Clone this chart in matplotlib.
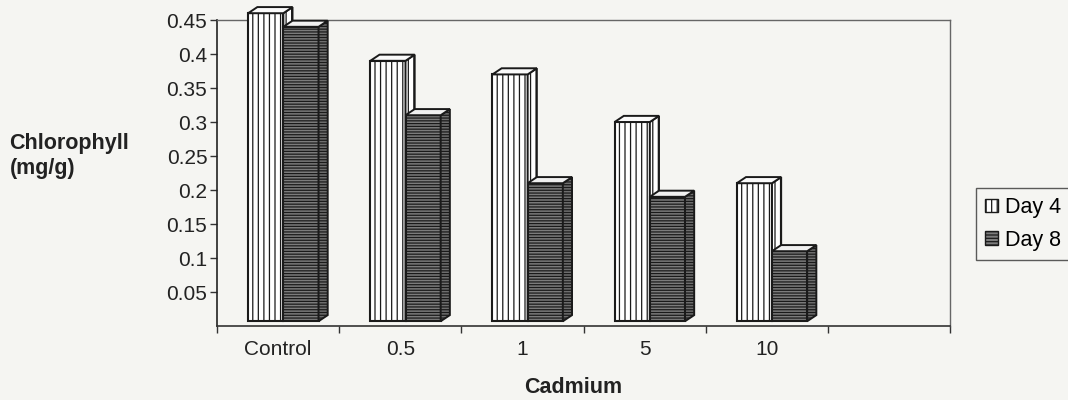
import numpy as np
import matplotlib.pyplot as plt
from matplotlib.patches import Patch

plt.rcParams['font.family'] = ['Liberation Sans', 'DejaVu Sans']
plt.rcParams['hatch.linewidth'] = 0.9

# ---- data ----
categories = ['Control', '0.5', '1', '5', '10']
day4 = [0.46, 0.39, 0.37, 0.30, 0.21]
day8 = [0.44, 0.31, 0.21, 0.19, 0.11]
yticks = [0.05, 0.1, 0.15, 0.2, 0.25, 0.3, 0.35, 0.4, 0.45]

bg = '#f5f5f2'
fig = plt.figure(figsize=(10.68, 4.0), dpi=100, facecolor=bg)
ax = fig.add_axes([0.2032, 0.185, 0.6863, 0.765], facecolor=bg)

w = 0.288          # width of one bar front
dx, dy = 0.075, 0.009   # 3d depth (data units)
base = 0.007
slots = np.arange(len(categories))


def bar3d(x0, h, hatch, face, side, top):
    ax.bar(x0, h - base, bottom=base, width=w, align='edge', color=face,
           hatch=hatch, edgecolor='#1a1a1a', linewidth=1.5, zorder=3, clip_on=False)
    x1 = x0 + w
    ax.fill([x1, x1 + dx, x1 + dx, x1], [base, base + dy, h + dy, h],
            facecolor=side, hatch=hatch, edgecolor='#1a1a1a', linewidth=1.4,
            zorder=3, clip_on=False)
    ax.fill([x0, x1, x1 + dx, x0 + dx], [h, h, h + dy, h + dy],
            facecolor=top, edgecolor='#1a1a1a', linewidth=1.4, zorder=3, clip_on=False)


for i in slots:
    bar3d(i + 0.255, day4[i], '|||', 'white', 'white', '#fafafa')
    bar3d(i + 0.255 + w, day8[i], '------', '#7c7c7c', '#6e6e6e', '#f0f0f0')

ax.set_xlim(0, 6)
ax.set_ylim(0, 0.45)
ax.set_yticks(yticks)
ax.set_yticklabels([f'{t:g}' for t in yticks])
ax.set_xticks(np.arange(0, 7))
ax.set_xticklabels([])
ax.set_xticks(slots + 0.5, minor=True)
ax.set_xticklabels(categories, minor=True)
ax.tick_params(axis='x', which='minor', length=0, pad=10, labelsize=15, labelcolor='#222')
ax.tick_params(axis='x', which='major', length=5, width=1, color='#333')
ax.tick_params(axis='y', length=5, width=1, color='#333', labelsize=15, pad=2,
               labelcolor='#222')

for s in ['top', 'right']:
    ax.spines[s].set_color('#666')
    ax.spines[s].set_linewidth(1.0)
ax.spines['left'].set_color('#222')
ax.spines['left'].set_linewidth(1.2)
ax.spines['bottom'].set_color('#333')
ax.spines['bottom'].set_linewidth(1.2)

fig.text(0.009, 0.61, 'Chlorophyll\n(mg/g)', ha='left', va='center',
         fontsize=15.5, fontweight='bold', color='#222', linespacing=1.2)
fig.text(0.537, 0.032, 'Cadmium', ha='center', va='center',
         fontsize=15.5, fontweight='bold', color='#222')

handles = [Patch(facecolor='white', edgecolor='#1a1a1a', hatch='|||', label='Day 4'),
           Patch(facecolor='#7c7c7c', edgecolor='#1a1a1a', hatch='-----', label='Day 8')]
leg = fig.legend(handles=handles, loc='center left', bbox_to_anchor=(0.914, 0.44),
                 fontsize=15.5, frameon=True, fancybox=False, handlelength=0.6,
                 handleheight=0.6, handletextpad=0.35, labelspacing=0.55,
                 borderpad=0.4, borderaxespad=0, facecolor=bg)
leg.get_frame().set_edgecolor('#333')
leg.get_frame().set_linewidth(1.0)

fig.savefig('out.png', dpi=100, facecolor=bg)
